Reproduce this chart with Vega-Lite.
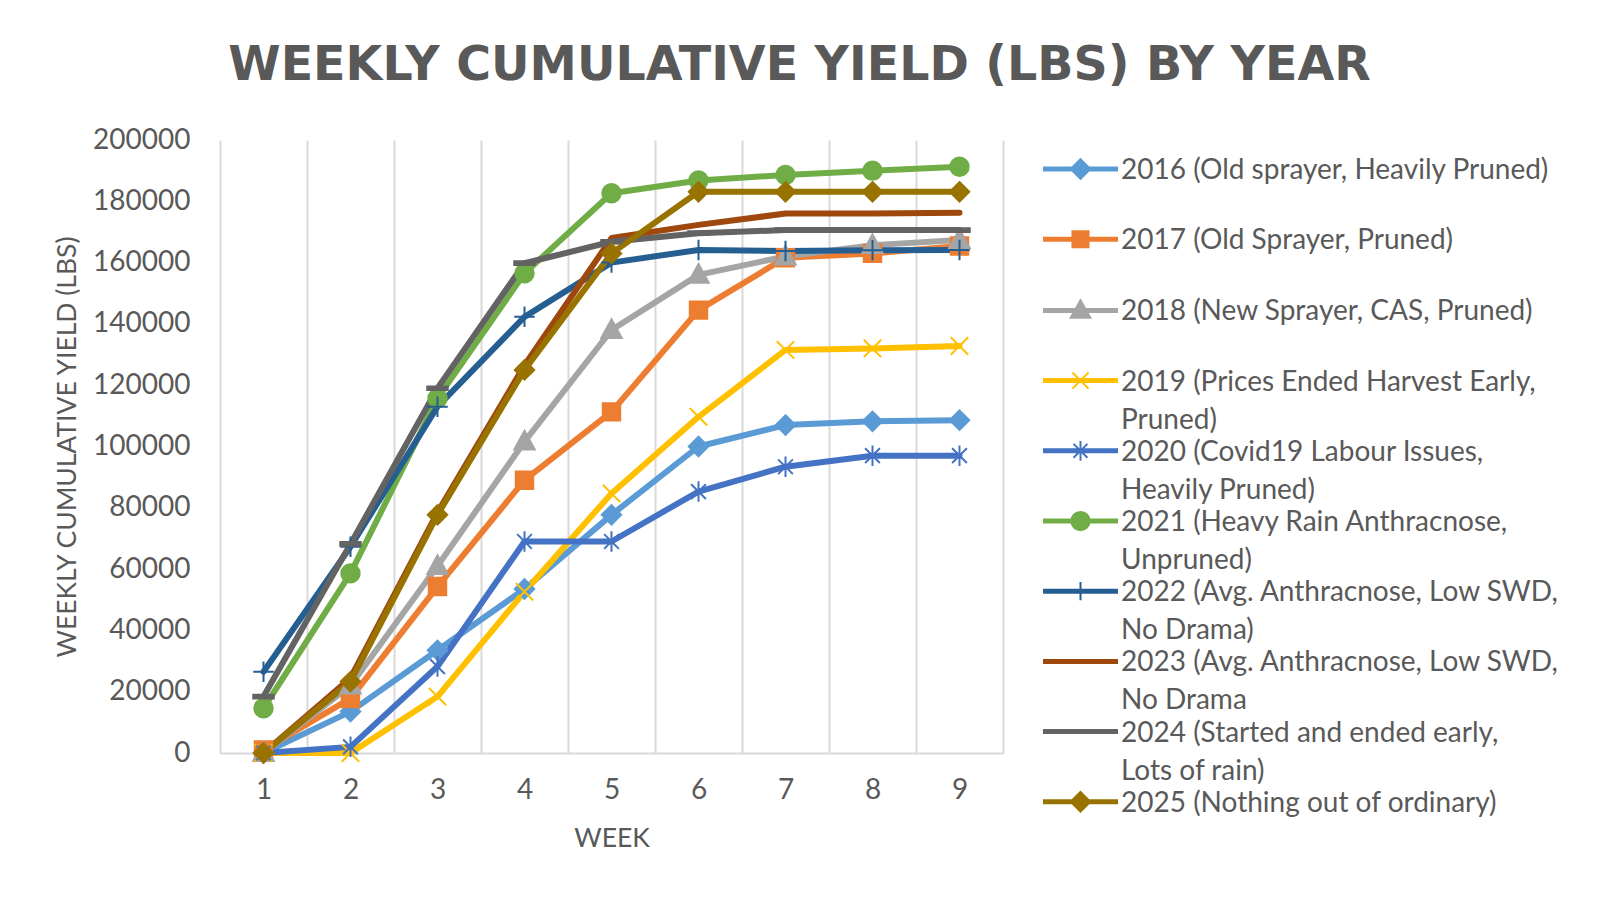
{
  "$schema": "https://vega.github.io/schema/vega-lite/v6.json",
  "width": 783,
  "height": 613,
  "autosize": {"type": "none"},
  "padding": {"left": 220, "top": 140, "right": 597, "bottom": 148},
  "background": "white",
  "config": {"font": "Lato", "view": {"stroke": null}},
  "title": {
    "text": "WEEKLY CUMULATIVE YIELD (LBS) BY YEAR",
    "font": "DejaVu Sans",
    "fontSize": 47.5,
    "fontWeight": "bold",
    "color": "#595959",
    "anchor": "middle",
    "frame": "group",
    "dx": 188,
    "baseline": "alphabetic",
    "offset": -1
  },
  "datasets": {
    "series": [
      {"year": "2016", "label": "2016 (Old sprayer, Heavily Pruned)"},
      {"year": "2017", "label": "2017 (Old Sprayer, Pruned)"},
      {"year": "2018", "label": "2018 (New Sprayer, CAS, Pruned)"},
      {"year": "2019", "label": "2019 (Prices Ended Harvest Early, Pruned)"},
      {"year": "2020", "label": "2020 (Covid19 Labour Issues, Heavily Pruned)"},
      {"year": "2021", "label": "2021 (Heavy Rain Anthracnose, Unpruned)"},
      {"year": "2022", "label": "2022 (Avg. Anthracnose, Low SWD, No Drama)"},
      {"year": "2023", "label": "2023 (Avg. Anthracnose, Low SWD, No Drama"},
      {"year": "2024", "label": "2024 (Started and ended early, Lots of rain)"},
      {"year": "2025", "label": "2025 (Nothing out of ordinary)"}
    ],
    "yield": [
      {"year": "2016", "week": 1, "lbs": 0},
      {"year": "2016", "week": 2, "lbs": 13500},
      {"year": "2016", "week": 3, "lbs": 33500},
      {"year": "2016", "week": 4, "lbs": 53500},
      {"year": "2016", "week": 5, "lbs": 77700},
      {"year": "2016", "week": 6, "lbs": 100000},
      {"year": "2016", "week": 7, "lbs": 107000},
      {"year": "2016", "week": 8, "lbs": 108200},
      {"year": "2016", "week": 9, "lbs": 108600},
      {"year": "2017", "week": 1, "lbs": 1000},
      {"year": "2017", "week": 2, "lbs": 17800},
      {"year": "2017", "week": 3, "lbs": 54300},
      {"year": "2017", "week": 4, "lbs": 89000},
      {"year": "2017", "week": 5, "lbs": 111300},
      {"year": "2017", "week": 6, "lbs": 144500},
      {"year": "2017", "week": 7, "lbs": 161600},
      {"year": "2017", "week": 8, "lbs": 163000},
      {"year": "2017", "week": 9, "lbs": 165400},
      {"year": "2018", "week": 1, "lbs": 0},
      {"year": "2018", "week": 2, "lbs": 22000},
      {"year": "2018", "week": 3, "lbs": 61000},
      {"year": "2018", "week": 4, "lbs": 101600},
      {"year": "2018", "week": 5, "lbs": 138000},
      {"year": "2018", "week": 6, "lbs": 156000},
      {"year": "2018", "week": 7, "lbs": 162000},
      {"year": "2018", "week": 8, "lbs": 165700},
      {"year": "2018", "week": 9, "lbs": 167400},
      {"year": "2019", "week": 1, "lbs": 0},
      {"year": "2019", "week": 2, "lbs": 0},
      {"year": "2019", "week": 3, "lbs": 18400},
      {"year": "2019", "week": 4, "lbs": 52600},
      {"year": "2019", "week": 5, "lbs": 84700},
      {"year": "2019", "week": 6, "lbs": 109700},
      {"year": "2019", "week": 7, "lbs": 131500},
      {"year": "2019", "week": 8, "lbs": 132000},
      {"year": "2019", "week": 9, "lbs": 132800},
      {"year": "2020", "week": 1, "lbs": 0},
      {"year": "2020", "week": 2, "lbs": 2000},
      {"year": "2020", "week": 3, "lbs": 28200},
      {"year": "2020", "week": 4, "lbs": 69000},
      {"year": "2020", "week": 5, "lbs": 69000},
      {"year": "2020", "week": 6, "lbs": 85300},
      {"year": "2020", "week": 7, "lbs": 93400},
      {"year": "2020", "week": 8, "lbs": 97000},
      {"year": "2020", "week": 9, "lbs": 97000},
      {"year": "2021", "week": 1, "lbs": 14600},
      {"year": "2021", "week": 2, "lbs": 58600},
      {"year": "2021", "week": 3, "lbs": 115700},
      {"year": "2021", "week": 4, "lbs": 156500},
      {"year": "2021", "week": 5, "lbs": 182600},
      {"year": "2021", "week": 6, "lbs": 186800},
      {"year": "2021", "week": 7, "lbs": 188600},
      {"year": "2021", "week": 8, "lbs": 190000},
      {"year": "2021", "week": 9, "lbs": 191300},
      {"year": "2022", "week": 1, "lbs": 26500},
      {"year": "2022", "week": 2, "lbs": 67300},
      {"year": "2022", "week": 3, "lbs": 113000},
      {"year": "2022", "week": 4, "lbs": 142300},
      {"year": "2022", "week": 5, "lbs": 160000},
      {"year": "2022", "week": 6, "lbs": 164100},
      {"year": "2022", "week": 7, "lbs": 163800},
      {"year": "2022", "week": 8, "lbs": 164000},
      {"year": "2022", "week": 9, "lbs": 164100},
      {"year": "2023", "week": 1, "lbs": 0},
      {"year": "2023", "week": 2, "lbs": 24500},
      {"year": "2023", "week": 3, "lbs": 78500},
      {"year": "2023", "week": 4, "lbs": 126500},
      {"year": "2023", "week": 5, "lbs": 168000},
      {"year": "2023", "week": 6, "lbs": 172300},
      {"year": "2023", "week": 7, "lbs": 176000},
      {"year": "2023", "week": 8, "lbs": 176000},
      {"year": "2023", "week": 9, "lbs": 176300},
      {"year": "2024", "week": 1, "lbs": 18400},
      {"year": "2024", "week": 2, "lbs": 68200},
      {"year": "2024", "week": 3, "lbs": 119000},
      {"year": "2024", "week": 4, "lbs": 159800},
      {"year": "2024", "week": 5, "lbs": 166800},
      {"year": "2024", "week": 6, "lbs": 169600},
      {"year": "2024", "week": 7, "lbs": 170600},
      {"year": "2024", "week": 8, "lbs": 170600},
      {"year": "2024", "week": 9, "lbs": 170600},
      {"year": "2025", "week": 1, "lbs": 0},
      {"year": "2025", "week": 2, "lbs": 23300},
      {"year": "2025", "week": 3, "lbs": 77700},
      {"year": "2025", "week": 4, "lbs": 125000},
      {"year": "2025", "week": 5, "lbs": 163000},
      {"year": "2025", "week": 6, "lbs": 183100},
      {"year": "2025", "week": 7, "lbs": 183100},
      {"year": "2025", "week": 8, "lbs": 183100},
      {"year": "2025", "week": 9, "lbs": 183100}
    ]
  },
  "data": {"name": "yield"},
  "transform": [
    {"lookup": "year", "from": {"data": {"name": "series"}, "key": "year", "fields": ["label"]}}
  ],
  "encoding": {
    "x": {
      "field": "week",
      "type": "quantitative",
      "scale": {"domain": [0.5, 9.5], "nice": false, "zero": false},
      "axis": {
        "title": "WEEK",
        "values": [0.5, 1, 1.5, 2, 2.5, 3, 3.5, 4, 4.5, 5, 5.5, 6, 6.5, 7, 7.5, 8, 8.5, 9, 9.5],
        "labelExpr": "datum.value % 1 === 0 ? format(datum.value, 'd') : ''",
        "grid": true,
        "gridColor": "#D9D9D9",
        "gridWidth": 2,
        "gridOpacity": {"condition": {"test": "datum.value % 1 === 0", "value": 0}, "value": 1},
        "ticks": false,
        "domain": true,
        "domainColor": "#D9D9D9",
        "domainWidth": 2,
        "labelFont": "Lato",
        "labelFontSize": 28,
        "labelColor": "#595959",
        "labelPadding": 23,
        "labelFlush": false,
        "labelOverlap": false,
        "titleFont": "Lato",
        "titleFontSize": 26.5,
        "titleFontWeight": "normal",
        "titleColor": "#595959",
        "titlePadding": 21
      }
    },
    "y": {
      "field": "lbs",
      "type": "quantitative",
      "scale": {"domain": [0, 200000], "nice": false},
      "axis": {
        "title": "WEEKLY CUMULATIVE YIELD (LBS)",
        "values": [0, 20000, 40000, 60000, 80000, 100000, 120000, 140000, 160000, 180000, 200000],
        "format": "d",
        "grid": false,
        "domain": false,
        "ticks": false,
        "labelFont": "Lato",
        "labelFontSize": 28,
        "labelColor": "#595959",
        "labelPadding": 30,
        "labelFlush": false,
        "labelOverlap": false,
        "titleFont": "Lato",
        "titleFontSize": 26.5,
        "titleFontWeight": "normal",
        "titleColor": "#595959",
        "titlePadding": 11
      }
    }
  },
  "layer": [
    {
      "mark": {"type": "line", "strokeWidth": 6, "strokeJoin": "round", "strokeCap": "round"},
      "encoding": {
        "color": {
          "field": "label",
          "type": "nominal",
          "scale": {
            "domain": ["2016 (Old sprayer, Heavily Pruned)", "2017 (Old Sprayer, Pruned)", "2018 (New Sprayer, CAS, Pruned)", "2019 (Prices Ended Harvest Early, Pruned)", "2020 (Covid19 Labour Issues, Heavily Pruned)", "2021 (Heavy Rain Anthracnose, Unpruned)", "2022 (Avg. Anthracnose, Low SWD, No Drama)", "2023 (Avg. Anthracnose, Low SWD, No Drama", "2024 (Started and ended early, Lots of rain)", "2025 (Nothing out of ordinary)"],
            "range": ["#5B9BD5", "#ED7D31", "#A5A5A5", "#FFC000", "#4472C4", "#70AD47", "#255E91", "#9E480E", "#636363", "#997300"]
          },
          "legend": {
            "title": null,
            "orient": "none",
            "legendX": 823,
            "legendY": 15,
            "symbolSize": 5329,
            "labelFont": "Lato",
            "labelFontSize": 28,
            "labelColor": "#595959",
            "labelLimit": 0,
            "labelOffset": 3,
            "labelBaseline": "alphabetic",
            "rowPadding": 2.2,
            "padding": 0,
            "labelExpr": "length(datum.label) > 35 ? [substring(datum.label, 0, lastindexof(datum.label, ', ') + 1), substring(datum.label, lastindexof(datum.label, ', ') + 2)] : [datum.label, '']",
            "encode": {
              "symbols": {
                "update": {
                  "shape": {"signal": "(indexof(datum.value,'2016')===0 || indexof(datum.value,'2025')===0) ? 'M-1,-0.041L1,-0.041L1,0.041L-1,0.041ZM0,-0.27L0.27,0L0,0.27L-0.27,0Z' : indexof(datum.value,'2017')===0 ? 'M-1,-0.041L1,-0.041L1,0.041L-1,0.041ZM-0.22,-0.22L0.22,-0.22L0.22,0.22L-0.22,0.22Z' : indexof(datum.value,'2018')===0 ? 'M-1,-0.041L1,-0.041L1,0.041L-1,0.041ZM0,-0.28L0.27,0.2L-0.27,0.2Z' : indexof(datum.value,'2019')===0 ? 'M-1,-0.041L1,-0.041L1,0.041L-1,0.041ZM-0.22,-0.22L0.22,0.22M-0.22,0.22L0.22,-0.22' : indexof(datum.value,'2020')===0 ? 'M-1,-0.041L1,-0.041L1,0.041L-1,0.041ZM-0.19,-0.19L0.19,0.19M-0.19,0.19L0.19,-0.19M0,-0.27L0,0.27' : indexof(datum.value,'2021')===0 ? 'M-1,-0.041L1,-0.041L1,0.041L-1,0.041ZM-0.25,0A0.25,0.25,0,1,1,0.25,0A0.25,0.25,0,1,1,-0.25,0Z' : indexof(datum.value,'2022')===0 ? 'M-1,-0.041L1,-0.041L1,0.041L-1,0.041ZM0,-0.25L0,0.25' : 'M-1,-0.041L1,-0.041L1,0.041L-1,0.041Z'"},
                  "y": {"value": 14},
                  "fill": {"signal": "scale('color', datum.value)"},
                  "stroke": {"signal": "scale('color', datum.value)"},
                  "strokeWidth": {"value": 2},
                  "opacity": {"value": 1}
                }
              },
              "labels": {
                "update": {
                  "y": {"value": 14},
                  "dy": {"value": 10},
                  "lineHeight": {"value": 38}
                }
              }
            }
          }
        }
      }
    },
    {
      "mark": {"type": "point", "filled": true, "size": 420, "strokeWidth": 2, "opacity": 1},
      "encoding": {
        "color": {
          "field": "label",
          "type": "nominal",
          "legend": null
        },
        "stroke": {
          "field": "year",
          "type": "nominal",
          "scale": {
            "domain": ["2016", "2017", "2018", "2019", "2020", "2021", "2022", "2023", "2024", "2025"],
            "range": ["#5B9BD5", "#ED7D31", "#A5A5A5", "#FFC000", "#4472C4", "#70AD47", "#255E91", "#9E480E", "#636363", "#997300"]
          },
          "legend": null
        },
        "shape": {
          "field": "year",
          "type": "nominal",
          "scale": {
            "domain": ["2016", "2017", "2018", "2019", "2020", "2021", "2022", "2023", "2024", "2025"],
            "range": ["M0,-0.95L0.95,0L0,0.95L-0.95,0Z", "M-0.85,-0.85L0.85,-0.85L0.85,0.85L-0.85,0.85Z", "M0,-1.05L1,0.78L-1,0.78Z", "M-0.85,-0.85L0.85,0.85M-0.85,0.85L0.85,-0.85", "M-0.72,-0.72L0.72,0.72M-0.72,0.72L0.72,-0.72M0,-1L0,1", "M-0.9,0A0.9,0.9,0,1,1,0.9,0A0.9,0.9,0,1,1,-0.9,0Z", "M-1,0L1,0M0,-1L0,1", "M0,0", "M-1,-0.18L1,-0.18L1,0.18L-1,0.18Z", "M0,-0.95L0.95,0L0,0.95L-0.95,0Z"]
          },
          "legend": null
        }
      }
    }
  ]
}
